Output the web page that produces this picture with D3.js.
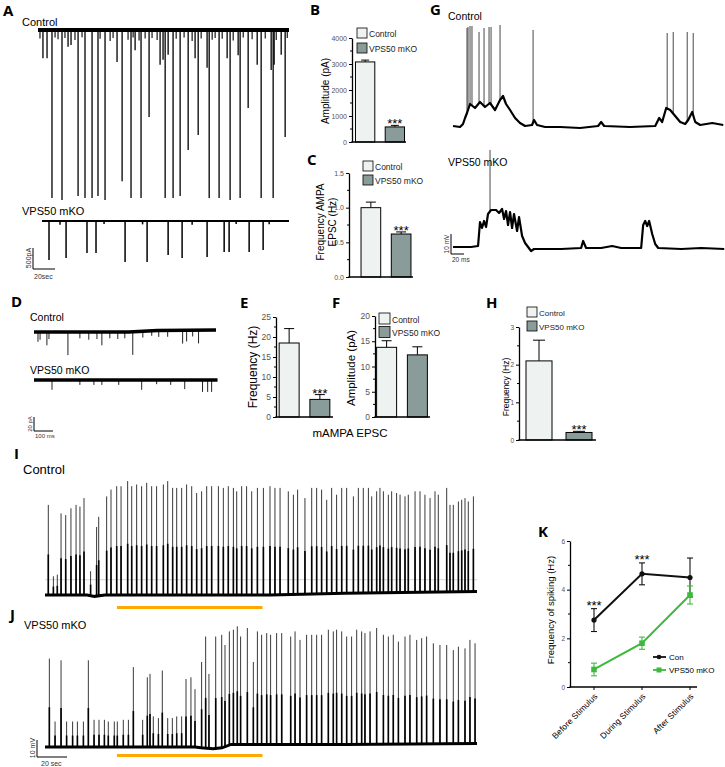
<!DOCTYPE html>
<html>
<head>
<meta charset="utf-8">
<script src="https://cdn.jsdelivr.net/npm/d3@7"></script>
<style>
  body { margin: 0; background: #fff; }
  svg { display: block; }
</style>
</head>
<body>
<svg id="fig" width="725" height="767"></svg>
<script>
// ===== Data =====
const groups  = ['Control', 'VPS50 mKO'];
const sigStars = '***';

// B: evoked AMPA amplitude (pA)
const bAmpMean = [3080, 580];
const bAmpSem  = [70, 60];
// C: AMPA EPSC frequency (Hz)
const cFreqMean = [1.0, 0.62];
const cFreqSem  = [0.08, 0.03];
// E: mAMPA frequency (Hz)
const eFreqMean = [18.5, 4.4];
const eFreqSem  = [3.6, 1.2];
// F: mAMPA amplitude (pA)
const fAmpMean = [13.8, 12.3];
const fAmpSem  = [1.3, 1.6];
// H: spiking frequency (Hz)
const hFreqMean = [2.1, 0.2];
const hFreqSem  = [0.55, 0.03];

// K: spiking before / during / after stimulus (Hz)
const kCats    = ['Before Stimulus', 'During Stimulus', 'After Stimulus'];
const kConMean = [2.75, 4.65, 4.5];
const kConSem  = [0.47, 0.45, 0.8];
const kKoMean  = [0.72, 1.8, 3.78];
const kKoSem   = [0.26, 0.25, 0.37];
const kSig     = ['***', '***', ''];

// A: evoked currents, time (s) and amplitude (pA)
const aCtrlBigT   = [12.7, 21.8, 36.4, 42.7, 49.1, 54.5, 60.9, 76.4, 84.5, 93.6, 100.9, 115.5, 122.7, 129.1, 136.4, 145.5, 155.5, 164.5, 174.5, 183.6, 190.9, 202.7, 213.6, 224.5];
const aCtrlBigPA  = [4000, 4050, 3950, 4000, 4000, 3950, 4050, 3600, 4000, 4000, 2070, 4000, 4000, 3950, 2860, 2500, 4000, 4000, 4050, 4000, 1860, 4000, 4000, 2550];
const aCtrlSmallT  = [4.5, 8.2, 27.3, 30, 71.8, 88.2, 110.9, 113.6, 118.2, 142.7, 153.6, 171.8, 181.8, 199.1, 211.8, 214.5, 220.9];
const aCtrlSmallPA = [670, 670, 400, 360, 760, 480, 830, 710, 590, 670, 900, 670, 600, 830, 950, 830, 590];
const aCtrlTinyT  = [1.8, 15.5, 18.2, 24.5, 33.6, 40, 56.4, 65.5, 68.2, 81.8, 86.4, 91.8, 97.3, 103.6, 108.2, 125.5, 132.7, 140, 148.2, 158.2, 160.9, 167.3, 177.3, 186.4, 194.5, 206.4, 216.4, 226.4];
const aCtrlTinyPA = [200, 180, 220, 190, 240, 170, 210, 260, 190, 230, 180, 250, 200, 190, 240, 210, 180, 260, 200, 230, 190, 210, 250, 180, 220, 200, 240, 190];
const aKoT  = [10, 25.5, 44.5, 52.7, 79.1, 99.1, 118.2, 130.9, 153.6, 169.1, 173.6, 191.8, 204.5, 20, 60, 95, 140, 180, 210];
const aKoPA = [930, 880, 760, 760, 975, 975, 810, 880, 860, 740, 740, 740, 690, 90, 70, 80, 90, 70, 80];

// D: miniature EPSCs, time (ms) and amplitude (pA)
const dCtrlT  = [21, 32, 68, 79, 179, 242, 289, 332, 358, 400, 442, 479, 521, 574, 621, 658, 705, 784, 805, 837, 868];
const dCtrlPA = [14, 11, 19, 10, 33, 9, 11, 10, 19, 9, 10, 9, 33, 9, 7, 9, 9, 19, 16, 9, 19];
const dCtrlBase = [[0, 0], [500, 0], [650, 2], [960, 3]];
const dKoT  = [95, 242, 316, 358, 447, 568, 647, 721, 795, 889, 916, 937];
const dKoPA = [14, 7, 7, 7, 7, 14, 6, 7, 13, 17, 17, 17];
const dKoBase = [[0, 0], [968, 0]];

// G: current-clamp traces, slow component (ms, mV) and spikes (ms, peak mV)
const gCtrlSlow = [[0,-65],[10.8,-65.5],[15.4,-64],[18.5,-61],[21.5,-58.5],[26.2,-54],[33.8,-56],[41.5,-53],[49.2,-55.5],[56.9,-53.5],[64.6,-57],[72.3,-52],[76.9,-50],[81.5,-54],[87.7,-57],[95.4,-61],[103,-63.5],[110.8,-65],[121.5,-64.5],[124.6,-62],[129.2,-64.5],[141.5,-65.5],[164.6,-65.5],[195.4,-66],[223,-65],[227.7,-63],[232.3,-65],[272.3,-65.5],[310.8,-65],[316.9,-61],[321.5,-63],[327.7,-56],[333.8,-57],[341.5,-60],[349.2,-63],[356.9,-64],[361.5,-62],[367.7,-58],[372.3,-63],[380,-64.5],[398.5,-63.5],[415.4,-64.5]];
const gCtrlSpikeT  = [21.5, 23.1, 26.2, 29.2, 40, 47.7, 55.4, 58.5, 72.3, 123.1, 329.2, 338.5, 360, 369.2];
const gCtrlSpikeMV = [-16, -15.5, -15, -15, -18, -16, -15.5, -15.5, -14.5, -17, -18.5, -18, -18, -18.5];
const gKoSlow = [[0,-65],[27.7,-65],[38.5,-64.5],[41.5,-52.5],[44.6,-55.5],[47.7,-52],[50.8,-55],[53.8,-48.5],[58.5,-46.5],[66.2,-46.5],[70.8,-48],[75.4,-46],[78.5,-51],[81.5,-47],[84.6,-54],[87.7,-47.5],[90.8,-55.5],[93.8,-48.5],[98.5,-57],[101.5,-50],[106.2,-59.5],[110.8,-63],[115.4,-65],[120,-67],[124.6,-66],[166.2,-66],[196.9,-65.5],[200,-62],[204.6,-65.5],[227.7,-65.5],[244.6,-64.5],[258.5,-65.5],[289.2,-65.5],[292.3,-54],[295.4,-52],[298.5,-54.5],[301.5,-52],[306.2,-58.5],[310.8,-63.5],[315.4,-65.5],[350.8,-66],[381.5,-65.5],[416.9,-66]];
const gKoSpikeT  = [56.9];
const gKoSpikeMV = [-16.5];

// I / J: long recordings, spike times (s) and peaks (mV)
const stimOn = 48, stimOff = 145;
const iRefMV = -51;
const iBase = [[0,-60],[28,-60],[33,-60.8],[40,-60],[150,-60],[200,-59],[288,-58]];
const iSpikeT  = [2.2, 5.6, 8.2, 10.7, 13.8, 17.3, 20.7, 23.3, 26, 30.4, 34.4, 35.8, 41.1, 44, 47.8, 50.7, 55.1, 57.8, 61.1, 64.4, 67.8, 71.1, 74.4, 78.9, 81.8, 85.1, 87.8, 91.1, 94.4, 97.8, 101.1, 104.4, 107.8, 111.1, 115.6, 118.9, 122.2, 125.6, 127.8, 131.1, 134.4, 137.8, 141.6, 145.6, 150, 153.3, 156.7, 162.2, 165.6, 168.4, 173.3, 177.8, 181.1, 184.4, 187.8, 191.1, 194.4, 197.8, 201.1, 205.6, 208.9, 212.2, 215.6, 217.8, 221.1, 223.3, 225.6, 228.9, 231.1, 234.4, 236.7, 240, 242.2, 246.7, 250, 253.3, 256.7, 260, 262.2, 267.8, 270, 272.2, 275.6, 277.8, 280, 282.2, 285.6];
const iSpikeMV = [-7, -49, -48, -12, -13, -9, -7, -8, -3, -46, -20, -14, -2, 2, 4, 4, 7, 4, 5, 4, 6, 4, 4, 5, 7, 3, 3, 3, 5, 4, 0, 1, 4, 4, 4, 3, 4, 3, 1, 4, 4, 1, 3, 3, 4, 3, 3, 1, -1, 2, -3, 3, 3, 2, -4, 3, -1, 3, 3, -2, 3, 3, 3, -2, 1, 3, 1, -1, 1, 0, -1, -2, -1, 1, 1, -1, -3, 1, -1, 3, -7, -7, -5, -4, -3, -5, -2];
const jBase = [[0,-60],[100,-60],[104,-60.5],[112,-61],[118,-60.5],[124,-58.5],[200,-58.5],[288,-58]];
const jSpikeT  = [2.9, 6.7, 10.7, 14.4, 18.4, 21.6, 25.6, 28.9, 32.7, 36, 39.6, 42.2, 46.2, 48.2, 52.2, 55.6, 58.9, 65.1, 68.2, 70, 72.2, 75.6, 78.2, 81.8, 84.9, 87.8, 91.1, 94, 97.3, 100, 104.4, 107.1, 109.3, 113.8, 117.8, 120, 122.9, 125.6, 128.2, 130.4, 134.9, 138.9, 141.6, 144.4, 147.8, 150.4, 154.4, 157.8, 163.8, 166.7, 170, 174.4, 177.8, 181.1, 184.4, 188.9, 192.2, 194.4, 197.8, 201.1, 204.4, 207.8, 211.1, 213.3, 216.7, 221.1, 225.6, 228.9, 232.2, 235.6, 240, 243.3, 247.8, 251.1, 254.4, 258.9, 263.3, 267.8, 272.2, 275.6, 280, 283.3, 286.7];
const jSpikeMV = [-8, -45, -9, -45, -45, -45, -45, -9, -44, -44, -44, -45, -45, -45, -44, -44, -13, -44, -19, -17, -42, -43, -15, -43, -43, -42, -42, -20, -19, -26, -10, 5, -17, 5, 6, 0, 8, 9, 11, 5, 10, -10, 8, 6, 7, 6, 7, 7, 5, 8, 3, 6, 6, 6, 6, 9, 8, 9, 8, 5, 5, 9, 8, 7, 8, 10, 6, 5, 6, 2, 5, 6, 3, 4, 5, 1, 0, 0, -3, -1, -2, 3, 1];

// ===== Styles =====
const SANS    = '"Liberation Sans", Arial, sans-serif';
const barFill = ['#eef3f1', '#8a9c99'];
const ORANGE  = '#ffa800';
const GREEN   = '#3dba3d';

const svg = d3.select('#fig');

function txt(x, y, s, size, o = {}) {
    const t = svg.append('text')
        .attr('x', x).attr('y', y).text(s)
        .style('font-size', size + 'px')
        .style('font-family', o.family || SANS)
        .style('fill', o.fill || '#000');
    if (o.anchor) t.style('text-anchor', o.anchor);
    if (o.weight) t.style('font-weight', o.weight);
    if (o.rotate) t.attr('transform', `rotate(${o.rotate},${x},${y})`);
    return t;
}

function panelLetter(x, y, s) {
    txt(x, y, s, 15, { family: '"Open Sans", "DejaVu Sans", sans-serif', weight: 700 });
}

function line(g, x1, y1, x2, y2, w, c) {
    return g.append('line')
        .attr('x1', x1).attr('y1', y1).attr('x2', x2).attr('y2', y2)
        .attr('stroke', c || '#000').attr('stroke-width', w);
}

// linear lookup along knot list (for placing spikes on slow component)
function valueAt(knots, t) {
    const i = d3.bisector(d => d[0]).right(knots, t);
    if (i <= 0) return knots[0][1];
    if (i >= knots.length) return knots[knots.length - 1][1];
    const a = knots[i - 1], b = knots[i];
    return a[1] + (b[1] - a[1]) * (t - a[0]) / (b[0] - a[0]);
}

// ===== Bar panels =====
function barPanel(o) {
    const g = svg.append('g');
    const y = d3.scaleLinear().domain([0, o.max]).range([o.zero, o.top]);
    const x = d3.scaleBand().domain(groups).range(o.xr).paddingInner(0.35).paddingOuter(o.po);
    const bw = x.bandwidth();

    // error bars (upper half only)
    groups.forEach((grp, i) => {
        const cx = x(grp) + bw / 2;
        const top = y(o.mean[i] + o.sem[i]);
        line(g, cx, y(o.mean[i]), cx, top, 1);
        line(g, cx - o.cap, top, cx + o.cap, top, 1);
    });

    g.selectAll('rect.bar').data(groups).join('rect')
        .attr('class', 'bar')
        .attr('x', d => x(d))
        .attr('y', (d, i) => y(o.mean[i]))
        .attr('width', bw)
        .attr('height', (d, i) => o.zero - y(o.mean[i]))
        .attr('fill', (d, i) => barFill[i])
        .attr('stroke', '#000').attr('stroke-width', 1);

    // y axis
    const ax = g.append('g')
        .attr('transform', `translate(${o.axisX},0)`)
        .call(d3.axisLeft(y).tickValues(o.major).tickSize(3).tickSizeOuter(0).tickPadding(2).tickFormat(o.fmt));
    ax.select('.domain').attr('stroke', '#000').attr('stroke-width', 1.3);
    ax.selectAll('.tick line').attr('stroke', '#000');
    ax.selectAll('.tick text').style('font-size', o.tf + 'px').style('font-family', SANS).style('fill', '#555');
    o.minor.forEach(v => line(g, o.axisX - 2, y(v), o.axisX, y(v), 1));

    // x axis
    line(g, o.axisX - 0.6, o.zero, o.xEnd, o.zero, 1.3);

    // significance
    if (o.stars) {
        const ks = y(o.mean[1] + o.sem[1]);
        g.append('text')
            .attr('x', x(groups[1]) + bw / 2).attr('y', ks + 3)
            .text(sigStars)
            .style('font-size', '13px').style('font-family', SANS)
            .style('text-anchor', 'middle');
    }

    // y label
    o.ylabel.forEach((s, k) => txt(o.ylx + k * 12, o.yly, s, o.yls, { anchor: 'middle', rotate: -90 }));

    // legend
    if (o.legend) {
        const L = o.legend;
        groups.forEach((grp, i) => {
            g.append('rect')
                .attr('x', L.x).attr('y', L.y + i * L.gap)
                .attr('width', L.s).attr('height', L.s)
                .attr('fill', barFill[i]).attr('stroke', '#000').attr('stroke-width', 0.8);
            g.append('text')
                .attr('x', L.x + L.s + 2).attr('y', L.y + i * L.gap + L.s - 1.5)
                .text(grp)
                .style('font-size', L.f + 'px').style('font-family', SANS).style('fill', '#222');
        });
    }
}

barPanel({ mean: bAmpMean, sem: bAmpSem, max: 4000, major: [0, 1000, 2000, 3000, 4000], minor: [500, 1500, 2500, 3500],
           fmt: d3.format('d'), tf: 7, zero: 142, top: 38, axisX: 352, xr: [354, 406], po: 0.05, xEnd: 406, cap: 4,
           stars: true, ylabel: ['Amplitude (pA)'], ylx: 329, yly: 91, yls: 10,
           legend: { x: 357, y: 28, s: 10, gap: 15, f: 8.5 } });

barPanel({ mean: cFreqMean, sem: cFreqSem, max: 1.5, major: [0, 0.5, 1.0, 1.5], minor: [0.25, 0.75, 1.25],
           fmt: d3.format('.1f'), tf: 7, zero: 277, top: 173, axisX: 349, xr: [358, 414], po: 0.1, xEnd: 413, cap: 5,
           stars: true, ylabel: ['Frequency AMPA', 'EPSC (Hz)'], ylx: 324, yly: 222, yls: 10,
           legend: { x: 363, y: 161, s: 10, gap: 14, f: 8.5 } });

barPanel({ mean: eFreqMean, sem: eFreqSem, max: 25, major: [0, 5, 10, 15, 20, 25], minor: [2.5, 7.5, 12.5, 17.5, 22.5],
           fmt: d3.format('d'), tf: 8.5, zero: 417, top: 317, axisX: 276, xr: [277, 332], po: 0.07, xEnd: 333, cap: 5,
           stars: true, ylabel: ['Frequency (Hz)'], ylx: 257, yly: 367, yls: 12, legend: null });

barPanel({ mean: fAmpMean, sem: fAmpSem, max: 20, major: [0, 5, 10, 15, 20], minor: [2.5, 7.5, 12.5, 17.5],
           fmt: d3.format('d'), tf: 8.5, zero: 417, top: 316, axisX: 375, xr: [376, 428], po: 0.02, xEnd: 430, cap: 5,
           stars: false, ylabel: ['Amplitude (pA)'], ylx: 355, yly: 368, yls: 11.5,
           legend: { x: 379, y: 313, s: 11, gap: 13.5, f: 8.5 } });

barPanel({ mean: hFreqMean, sem: hFreqSem, max: 3, major: [0, 1, 2, 3], minor: [0.5, 1.5, 2.5],
           fmt: d3.format('d'), tf: 6.5, zero: 440, top: 327, axisX: 519, xr: [522, 596], po: 0.1, xEnd: 596, cap: 6,
           stars: true, ylabel: ['Frequency (Hz)'], ylx: 509, yly: 387, yls: 8.5,
           legend: { x: 527, y: 307, s: 10, gap: 14, f: 8 } });

txt(350, 437, 'mAMPA EPSC', 11.5, { anchor: 'middle' });

// ===== A: evoked current traces =====
{
    const g = svg.append('g');
    const x = d3.scaleLinear().domain([0, 228]).range([38, 289]);
    const yC = d3.scaleLinear().domain([0, -4000]).range([30, 198]);
    const yK = d3.scaleLinear().domain([0, -4000]).range([221, 389]);

    const drawEvents = (T, A, y, w) => {
        g.selectAll(null).data(d3.zip(T, A)).join('line')
            .attr('x1', d => x(d[0])).attr('x2', d => x(d[0]))
            .attr('y1', y(0)).attr('y2', d => y(-d[1]))
            .attr('stroke', '#000').attr('stroke-width', w);
    };
    drawEvents(aCtrlTinyT, aCtrlTinyPA, yC, 1.1);
    drawEvents(aCtrlSmallT, aCtrlSmallPA, yC, 1.3);
    drawEvents(aCtrlBigT, aCtrlBigPA, yC, 1.3);
    line(g, x(0), yC(0), x(228), yC(0), 4);

    drawEvents(aKoT, aKoPA, yK, 1.5);
    line(g, x(3.6), yK(0), x(228), yK(0), 1.8);

    // scale bar: 500 pA, 20 s
    line(g, 33, 269, 33, 269 - (yC(-500) - yC(0)), 1);
    line(g, 33, 269, 33 + x(20) - x(0), 269, 1);
    txt(31, 258, '500pA', 7, { anchor: 'middle', rotate: -90, fill: '#333' });
    txt(34, 279, '20sec', 7, { fill: '#333' });

    panelLetter(3, 16, 'A');
    txt(22, 26, 'Control', 11);
    txt(22, 215, 'VPS50 mKO', 11);
}

// ===== D: miniature EPSC traces =====
{
    const g = svg.append('g');
    const x = d3.scaleLinear().domain([0, 960]).range([34, 216]);
    const yC = d3.scaleLinear().domain([0, -20]).range([332, 346]);
    const yK = d3.scaleLinear().domain([0, -20]).range([380, 394]);
    const baseLine = d3.line().x(d => x(d[0]));

    const drawMini = (T, A, base, y) => {
        g.selectAll(null).data(d3.zip(T, A)).join('line')
            .attr('x1', d => x(d[0])).attr('x2', d => x(d[0]))
            .attr('y1', d => y(valueAt(base, d[0]))).attr('y2', d => y(valueAt(base, d[0]) - d[1]))
            .attr('stroke', '#222').attr('stroke-width', 1);
        g.append('path').attr('d', baseLine.y(d => y(d[1]))(base))
            .attr('fill', 'none').attr('stroke', '#000').attr('stroke-width', 3.5);
    };
    drawMini(dCtrlT, dCtrlPA, dCtrlBase, yC);
    drawMini(dKoT, dKoPA, dKoBase, yK);

    // scale bar: 20 pA, 100 ms
    line(g, 34, 431, 34, 431 - (yC(-20) - yC(0)), 1);
    line(g, 34, 431, 34 + x(100) - x(0), 431, 1);
    txt(32, 424, '20 pA', 6, { anchor: 'middle', rotate: -90, fill: '#333' });
    txt(35, 438, '100 ms', 6, { fill: '#333' });

    panelLetter(11, 307, 'D');
    txt(30, 321, 'Control', 10.5);
    txt(30, 374, 'VPS50 mKO', 10.5);
}

// ===== G: current-clamp traces =====
{
    const g = svg.append('g');
    const x = d3.scaleLinear().domain([0, 415]).range([453, 723]);
    const yC = d3.scaleLinear().domain([-65, -15]).range([126, 26]);
    const yK = d3.scaleLinear().domain([-65, -15]).range([247, 147]);

    const drawCC = (slow, T, P, y) => {
        g.selectAll(null).data(d3.zip(T, P)).join('line')
            .attr('x1', d => x(d[0])).attr('x2', d => x(d[0]))
            .attr('y1', d => y(valueAt(slow, d[0]))).attr('y2', d => y(d[1]))
            .attr('stroke', '#333').attr('stroke-width', 0.9);
        g.append('path')
            .attr('d', d3.line().x(d => x(d[0])).y(d => y(d[1]))(slow))
            .attr('fill', 'none').attr('stroke', '#000').attr('stroke-width', 2.2).attr('stroke-linejoin', 'round');
    };
    drawCC(gCtrlSlow, gCtrlSpikeT, gCtrlSpikeMV, yC);
    drawCC(gKoSlow, gKoSpikeT, gKoSpikeMV, yK);

    // scale bar: 10 mV, 20 ms
    line(g, 451, 254, 451, 254 - (yK(-55) - yK(-65)) * -1, 1);
    line(g, 451, 254, 451 + x(20) - x(0), 254, 1);
    txt(449, 244, '10 mV', 6.5, { anchor: 'middle', rotate: -90, fill: '#333' });
    txt(452, 262, '20 ms', 6.5, { fill: '#333' });

    panelLetter(430, 15, 'G');
    txt(448, 20, 'Control', 10.5);
    txt(448, 166, 'VPS50 mKO', 10.5);
}

// ===== I / J: long recordings with stimulus =====
{
    const g = svg.append('g');
    const x = d3.scaleLinear().domain([0, 288]).range([45, 477]);
    const yI = d3.scaleLinear().domain([-60, 10]).range([595, 476]);
    const yJ = d3.scaleLinear().domain([-60, 10]).range([747, 628]);

    const drawLong = (base, T, P, y) => {
        const data = d3.zip(T, P);
        g.selectAll(null).data(data).join('line')
            .attr('x1', d => x(d[0])).attr('x2', d => x(d[0]))
            .attr('y1', d => y(valueAt(base, d[0]))).attr('y2', d => y(d[1]))
            .attr('stroke', '#3a3a3a').attr('stroke-width', 1);
        g.selectAll(null).data(data).join('line')
            .attr('x1', d => x(d[0])).attr('x2', d => x(d[0]))
            .attr('y1', d => y(valueAt(base, d[0]))).attr('y2', d => {
                const b = valueAt(base, d[0]);
                return y(b + (d[1] - b) * 0.45);
            })
            .attr('stroke', '#000').attr('stroke-width', 1.6);
        g.append('path')
            .attr('d', d3.line().x(d => x(d[0])).y(d => y(d[1]))(base))
            .attr('fill', 'none').attr('stroke', '#000').attr('stroke-width', 3);
    };

    line(g, x(0), yI(iRefMV), x(288), yI(iRefMV), 0.7, '#c4c4c4');
    drawLong(iBase, iSpikeT, iSpikeMV, yI);
    drawLong(jBase, jSpikeT, jSpikeMV, yJ);

    // stimulus bars
    g.append('rect').attr('x', x(stimOn)).attr('y', 606).attr('width', x(stimOff) - x(stimOn)).attr('height', 3).attr('fill', ORANGE);
    g.append('rect').attr('x', x(stimOn)).attr('y', 754).attr('width', x(stimOff) - x(stimOn)).attr('height', 3).attr('fill', ORANGE);

    // scale bar: 10 mV, 20 s
    line(g, 37, 757, 37, 757 - (yJ(-60) - yJ(-50)), 1);
    line(g, 37, 757, 37 + x(20) - x(0), 757, 1);
    txt(35, 748, '10 mV', 7, { anchor: 'middle', rotate: -90, fill: '#333' });
    txt(41, 766, '20 sec', 7, { fill: '#333' });

    panelLetter(14, 459, 'I');
    txt(23, 474, 'Control', 13);
    panelLetter(10, 620, 'J');
    txt(24, 629, 'VPS50 mKO', 11);
}

// ===== K: spiking frequency line plot =====
{
    const g = svg.append('g');
    const x = d3.scalePoint().domain(kCats).range([570, 714]).padding(0.5);
    const y = d3.scaleLinear().domain([0, 6]).range([687, 541]);

    const ax = g.append('g').attr('transform', 'translate(570,0)')
        .call(d3.axisLeft(y).tickValues([0, 2, 4, 6]).tickSize(3).tickSizeOuter(0).tickPadding(2).tickFormat(d3.format('d')));
    ax.select('.domain').attr('stroke', '#000').attr('stroke-width', 1.3);
    ax.selectAll('.tick text').style('font-size', '6.5px').style('font-family', SANS).style('fill', '#555');
    [1, 3, 5].forEach(v => line(g, 568, y(v), 570, y(v), 1));

    line(g, 569.4, 687, 697, 687, 1.3);
    kCats.forEach(c => {
        line(g, x(c), 687, x(c), 690, 1);
        txt(x(c) + 4, 697, c, 8.5, { anchor: 'end', rotate: -45 });
    });

    const drawSeries = (mean, sem, color, marker) => {
        g.append('path')
            .attr('d', d3.line().x((d, i) => x(kCats[i])).y(d => y(d))(mean))
            .attr('fill', 'none').attr('stroke', color).attr('stroke-width', 2);
        mean.forEach((m, i) => {
            const cx = x(kCats[i]);
            line(g, cx, y(m - sem[i]), cx, y(m + sem[i]), 1.1, color);
            line(g, cx - 3, y(m - sem[i]), cx + 3, y(m - sem[i]), 1.1, color);
            line(g, cx - 3, y(m + sem[i]), cx + 3, y(m + sem[i]), 1.1, color);
            if (marker === 'circle') g.append('circle').attr('cx', cx).attr('cy', y(m)).attr('r', 2.6).attr('fill', color);
            else g.append('rect').attr('x', cx - 2.8).attr('y', y(m) - 2.8).attr('width', 5.6).attr('height', 5.6).attr('fill', color);
        });
    };
    drawSeries(kConMean, kConSem, '#111', 'circle');
    drawSeries(kKoMean, kKoSem, GREEN, 'square');

    kSig.forEach((s, i) => {
        if (!s) return;
        g.append('text').attr('x', x(kCats[i])).attr('y', y(kConMean[i] + kConSem[i]) + 1)
            .text(s).style('font-size', '13px').style('font-family', SANS).style('text-anchor', 'middle');
    });

    // legend
    const leg = [['Con', '#111', 'circle'], ['VPS50 mKO', GREEN, 'square']];
    leg.forEach((l, i) => {
        const ly = 657 + i * 13;
        line(g, 653, ly, 666, ly, 1.8, l[1]);
        if (l[2] === 'circle') g.append('circle').attr('cx', 659).attr('cy', ly).attr('r', 2.3).attr('fill', l[1]);
        else g.append('rect').attr('x', 656.5).attr('y', ly - 2.5).attr('width', 5).attr('height', 5).attr('fill', l[1]);
        txt(669, ly + 3, l[0], 8);
    });

    txt(554, 610, 'Frequency of spiking (Hz)', 9.5, { anchor: 'middle', rotate: -90 });
    panelLetter(538, 537, 'K');
}

// remaining panel letters
panelLetter(310, 15, 'B');
panelLetter(307, 165, 'C');
panelLetter(240, 308, 'E');
panelLetter(332, 308, 'F');
panelLetter(486, 308, 'H');
</script>
</body>
</html>
